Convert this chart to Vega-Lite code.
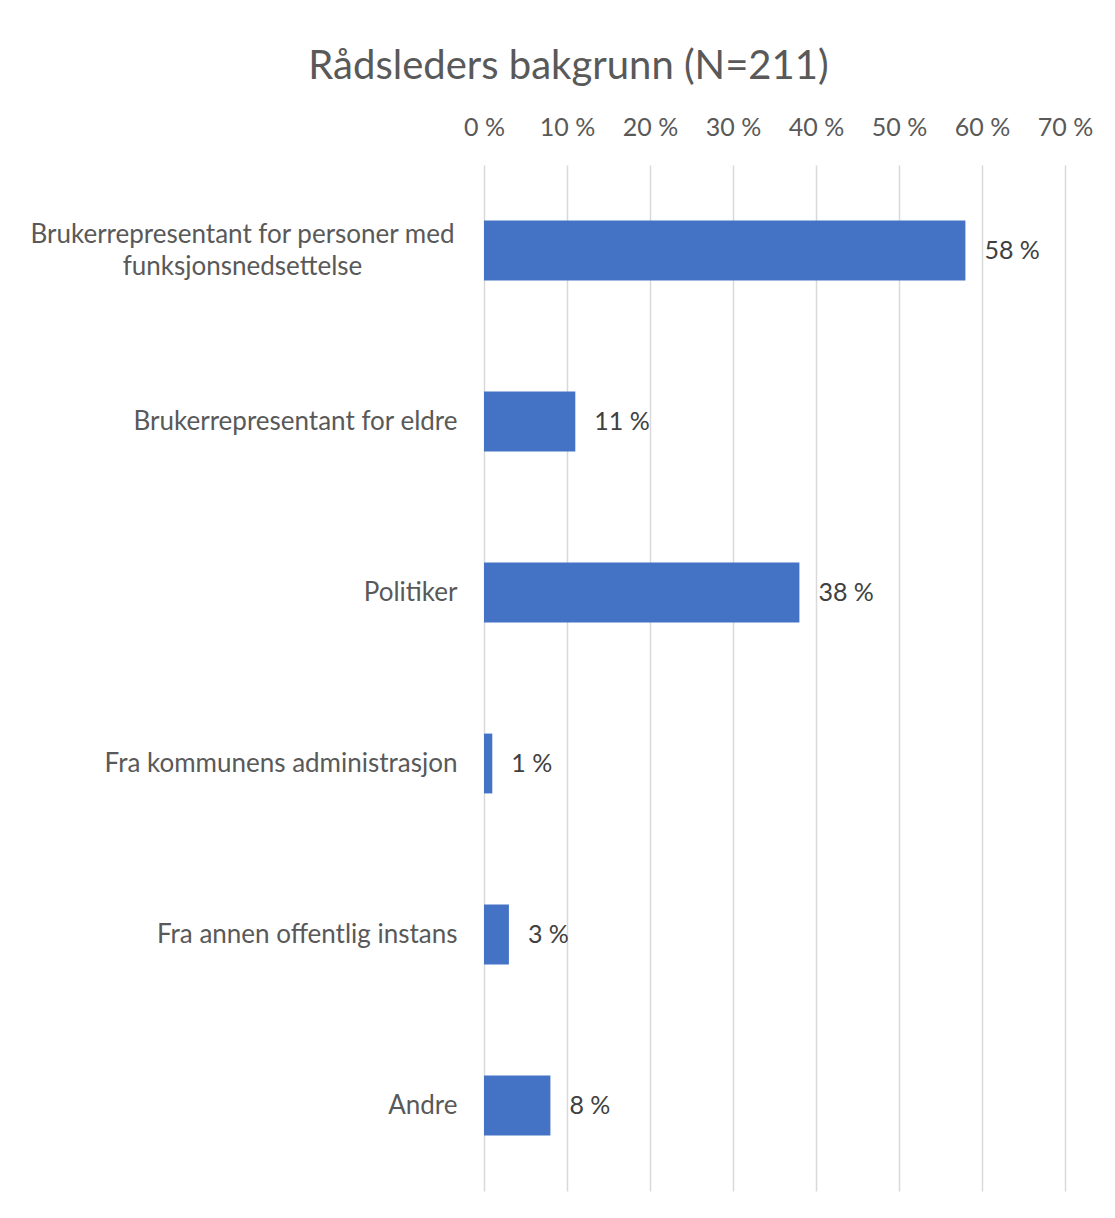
{
  "$schema": "https://vega.github.io/schema/vega-lite/v6.json",
  "width": 581,
  "height": 1026,
  "autosize": {"type": "none"},
  "padding": {"left": 484, "top": 165, "right": 50, "bottom": 27},
  "background": "white",
  "config": {
    "view": {"stroke": null},
    "font": "Lato"
  },
  "title": {
    "text": "Rådsleders bakgrunn (N=211)",
    "anchor": "middle",
    "frame": "group",
    "dx": -206,
    "dy": 8,
    "fontSize": 40,
    "font": "Lato",
    "fontWeight": "normal",
    "color": "#595959",
    "baseline": "alphabetic",
    "offset": 4
  },
  "data": {
    "values": [
      {"cat": "Brukerrepresentant for personer med funksjonsnedsettelse", "value": 58},
      {"cat": "Brukerrepresentant for eldre", "value": 11},
      {"cat": "Politiker", "value": 38},
      {"cat": "Fra kommunens administrasjon", "value": 1},
      {"cat": "Fra annen offentlig instans", "value": 3},
      {"cat": "Andre", "value": 8}
    ]
  },
  "transform": [{"calculate": "datum.value + ' %'", "as": "label"}],
  "encoding": {
    "y": {
      "field": "cat",
      "type": "nominal",
      "sort": null,
      "scale": {"paddingInner": 0.65, "paddingOuter": 0.325},
      "axis": {
        "title": null,
        "domain": false,
        "ticks": false,
        "grid": false,
        "labelFont": "Lato",
        "labelFontSize": 26,
        "labelColor": "#595959",
        "labelLimit": 600,
        "labelLineHeight": 32,
        "labelExpr": "datum.value == 'Brukerrepresentant for personer med funksjonsnedsettelse' ? ['Brukerrepresentant for personer med', 'funksjonsnedsettelse'] : datum.label",
        "labelAlign": {"condition": {"test": "datum.value == 'Brukerrepresentant for personer med funksjonsnedsettelse'", "value": "center"}, "value": "right"},
        "labelPadding": {"condition": {"test": "datum.value == 'Brukerrepresentant for personer med funksjonsnedsettelse'", "value": 242}, "value": 27},
        "labelOffset": {"condition": {"test": "datum.value == 'Brukerrepresentant for personer med funksjonsnedsettelse'", "value": -16}, "value": 0}
      }
    },
    "x": {
      "field": "value",
      "type": "quantitative",
      "scale": {"domain": [0, 70], "nice": false},
      "axis": {
        "orient": "top",
        "title": null,
        "domain": false,
        "ticks": false,
        "values": [0, 10, 20, 30, 40, 50, 60, 70],
        "labelExpr": "datum.value + ' %'",
        "labelFlush": false,
        "labelFont": "Lato",
        "labelFontSize": 25,
        "labelColor": "#595959",
        "labelPadding": 25,
        "gridColor": "#d9d9d9",
        "gridWidth": 1.5
      }
    }
  },
  "layer": [
    {"mark": {"type": "bar", "color": "#4472C4"}},
    {
      "mark": {"type": "text", "align": "left", "baseline": "middle", "dx": 19, "font": "Lato", "fontSize": 25, "color": "#404040"},
      "encoding": {"text": {"field": "label"}}
    }
  ]
}
